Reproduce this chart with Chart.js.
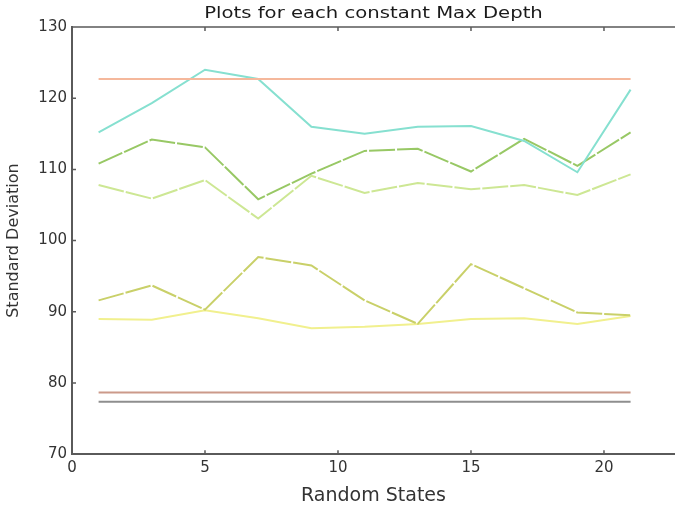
<!DOCTYPE html>
<html>
<head>
<meta charset="utf-8">
<script src="https://cdn.jsdelivr.net/npm/chart.js@4.4.1/dist/chart.umd.min.js"></script>
<style>
  html, body { margin: 0; padding: 0; background: #fff; overflow: hidden; }
  #wrap { width: 675px; height: 507px; position: relative; }
</style>
</head>
<body>
<div id="wrap"><canvas id="depthChart"></canvas></div>
<script>
/* Std deviation per random state, one line per constant max depth */

const chartTitle = 'Plots for each constant Max Depth';
const randomStates = [1, 3, 5, 7, 9, 11, 13, 15, 17, 19, 21];
const xTicks = [0, 5, 10, 15, 20];
const yTicks = [70, 80, 90, 100, 110, 120, 130];

const depthCyan = [115.2, 119.3, 124.0, 122.7, 116.0, 115.0, 116.0, 116.1, 114.0, 109.6, 121.2];
const depthGreen = [110.8, 114.2, 113.1, 105.8, 109.4, 112.6, 112.9, 109.7, 114.3, 110.5, 115.2];
const depthLightGreen = [107.8, 105.9, 108.5, 103.1, 109.1, 106.7, 108.1, 107.2, 107.8, 106.4, 109.3];
const depthOlive = [91.6, 93.7, 90.3, 97.7, 96.5, 91.6, 88.3, 96.7, 93.3, 89.9, 89.5];
const depthYellow = [89.0, 88.9, 90.2, 89.1, 87.7, 87.9, 88.3, 89.0, 89.1, 88.3, 89.4];
const depthOrange = [122.7, 122.7, 122.7, 122.7, 122.7, 122.7, 122.7, 122.7, 122.7, 122.7, 122.7];
const depthBrown = [78.65, 78.65, 78.65, 78.65, 78.65, 78.65, 78.65, 78.65, 78.65, 78.65, 78.65];
const depthGray = [77.35, 77.35, 77.35, 77.35, 77.35, 77.35, 77.35, 77.35, 77.35, 77.35, 77.35];

function toPoints(values) {
  return values.map((v, i) => ({ x: randomStates[i], y: v }));
}

function line(values, color, dash) {
  return {
    data: toPoints(values),
    borderColor: color,
    borderWidth: 2,
    borderDash: dash || [],
    pointRadius: 0,
    tension: 0,
    fill: false,
  };
}

const AXIS = '#5a5a5a';
const FONT = 'DejaVu Sans';

// matplotlib-like inward ticks, top spine and a title centred over the axes
const frame = {
  id: 'frame',
  afterDraw(chart) {
    const { ctx, chartArea: a, scales } = chart;
    ctx.save();
    ctx.strokeStyle = AXIS;
    ctx.lineWidth = 1.5;
    ctx.beginPath();
    ctx.moveTo(a.left, a.top);
    ctx.lineTo(a.right, a.top);
    xTicks.forEach((t) => {
      const px = scales.x.getPixelForValue(t);
      ctx.moveTo(px, a.bottom);
      ctx.lineTo(px, a.bottom - 4);
      ctx.moveTo(px, a.top);
      ctx.lineTo(px, a.top + 4);
    });
    yTicks.forEach((t) => {
      const py = scales.y.getPixelForValue(t);
      ctx.moveTo(a.left, py);
      ctx.lineTo(a.left + 4, py);
    });
    ctx.stroke();

    // the source title looks horizontally stretched
    ctx.fillStyle = '#1a1a1a';
    ctx.font = `16.5px "${FONT}"`;
    ctx.textAlign = 'center';
    ctx.textBaseline = 'middle';
    ctx.translate((a.left + a.right) / 2, 14);
    ctx.scale(1.19, 1);
    ctx.fillText(chartTitle, 0, 0);
    ctx.restore();
  },
};

const ctx = document.getElementById('depthChart').getContext('2d');
new Chart(ctx, {
  type: 'line',
  data: {
    datasets: [
      line(depthOrange, '#f5b89c'),
      line(depthCyan, '#86e0d0'),
      line(depthGreen, '#98c865', [26, 2]),
      line(depthLightGreen, '#cde794', [26, 2]),
      line(depthOlive, '#c9d069', [26, 2]),
      line(depthYellow, '#f1f08e'),
      line(depthBrown, '#cc9a8a'),
      line(depthGray, '#8e8e8e'),
    ],
  },
  options: {
    responsive: true,
    maintainAspectRatio: false,
    animation: false,
    layout: { padding: { left: 0, right: 0, top: 27, bottom: 0 } },
    plugins: {
      legend: { display: false },
      tooltip: { enabled: false },
      title: { display: false },
    },
    scales: {
      x: {
        type: 'linear',
        min: 0,
        max: 22.67,
        afterBuildTicks: (scale) => { scale.ticks = xTicks.map((v) => ({ value: v })); },
        grid: { display: false, drawTicks: false },
        border: { display: true, color: AXIS, width: 2 },
        ticks: {
          color: '#333',
          padding: 5,
          maxRotation: 0,
          font: { family: FONT, size: 15 },
        },
        title: {
          display: true,
          text: 'Random States',
          color: '#333',
          font: { family: FONT, size: 19 },
          padding: { top: 2, bottom: 0 },
        },
      },
      y: {
        min: 70,
        max: 130,
        afterBuildTicks: (scale) => { scale.ticks = yTicks.map((v) => ({ value: v })); },
        afterFit: (scale) => { scale.width = 72; },
        grid: { display: false, drawTicks: false },
        border: { display: true, color: AXIS, width: 2 },
        ticks: {
          color: '#333',
          padding: 5,
          font: { family: FONT, size: 15 },
        },
        title: {
          display: true,
          text: 'Standard Deviation',
          color: '#333',
          font: { family: FONT, size: 16 },
          padding: { top: 4, bottom: 0 },
        },
      },
    },
  },
  plugins: [frame],
});
</script>
</body>
</html>
